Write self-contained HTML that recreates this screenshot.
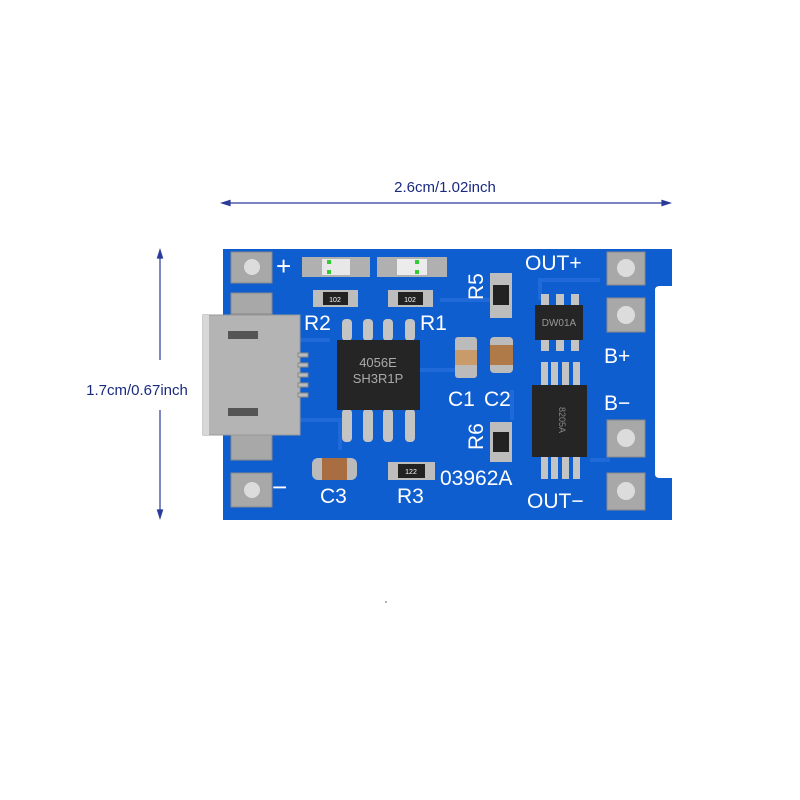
<!DOCTYPE html>
<html><head><meta charset="utf-8"><style>
html,body{margin:0;padding:0;background:#fff;}
svg{display:block;}
</style></head><body>
<svg width="800" height="800" viewBox="0 0 800 800" xmlns="http://www.w3.org/2000/svg" font-family="Liberation Sans, sans-serif">
<g stroke="#2a3a9a" stroke-width="1.2" fill="#2a3a9a">
<line x1="224" y1="203" x2="668" y2="203"/>
<polygon points="222,203 230,200.5 230,205.5"/>
<polygon points="670,203 662,200.5 662,205.5"/>
<line x1="160" y1="252" x2="160" y2="360"/>
<line x1="160" y1="410" x2="160" y2="516"/>
<polygon points="160,250 157.5,258 162.5,258"/>
<polygon points="160,518 157.5,510 162.5,510"/>
</g>
<text x="445" y="192" font-size="15" fill="#1a2a80" text-anchor="middle">2.6cm/1.02inch</text>
<text x="137" y="395" font-size="15" fill="#1a2a80" text-anchor="middle">1.7cm/0.67inch</text>
<circle cx="386" cy="602" r="0.8" fill="#555"/>

<path d="M223,249 H672 V520 H223 Z" fill="#0f5ed0"/>
<path d="M655,290 Q655,286 660,286 H673 V478 H660 Q655,478 655,474 Z" fill="#fff"/>
<g stroke="#2a72e0" stroke-width="4" fill="none" opacity="0.6">
<path d="M300,340 H330 M420,370 H455 M512,390 V420 M300,420 H340 V450 M440,300 H490 M540,300 V280 H600 M590,460 H610"/>
</g>
<g fill="#a8a8a8" stroke="#888" stroke-width="1">
<rect x="231" y="252" width="41" height="31"/>
<rect x="231" y="293" width="41" height="21"/>
<rect x="231" y="432" width="41" height="28"/>
<rect x="231" y="473" width="41" height="34"/>
<rect x="607" y="252" width="38" height="33"/>
<rect x="607" y="298" width="38" height="34"/>
<rect x="607" y="420" width="38" height="37"/>
<rect x="607" y="473" width="38" height="37"/>
</g>
<g fill="#dcdcdc">
<circle cx="252" cy="267" r="8"/><circle cx="252" cy="490" r="8"/>
<circle cx="626" cy="268" r="9"/><circle cx="626" cy="315" r="9"/>
<circle cx="626" cy="438" r="9"/><circle cx="626" cy="491" r="9"/>
</g>
<rect x="203" y="315" width="97" height="120" fill="#b4b4b4" stroke="#999"/>
<rect x="203" y="315" width="6" height="120" fill="#d8d8d8"/>
<rect x="228" y="331" width="30" height="8" fill="#555"/>
<rect x="228" y="408" width="30" height="8" fill="#555"/>
<g fill="#bbb" stroke="#888"><rect x="298" y="353" width="10" height="4"/><rect x="298" y="363" width="10" height="4"/><rect x="298" y="373" width="10" height="4"/><rect x="298" y="383" width="10" height="4"/><rect x="298" y="393" width="10" height="4"/></g>
<g>
<rect x="302" y="257" width="68" height="20" fill="#b0b0b0"/>
<rect x="322" y="259" width="28" height="16" fill="#e8e8e8"/>
<rect x="327" y="260" width="4" height="4" fill="#3c3"/><rect x="327" y="270" width="4" height="4" fill="#3c3"/>
<rect x="377" y="257" width="70" height="20" fill="#b0b0b0"/>
<rect x="397" y="259" width="30" height="16" fill="#ececec"/>
<rect x="415" y="260" width="4" height="4" fill="#3c3"/><rect x="415" y="270" width="4" height="4" fill="#3c3"/>
</g>
<g font-size="7" fill="#fff" text-anchor="middle">
<rect x="313" y="290" width="45" height="17" fill="#bdbdbd"/><rect x="323" y="292" width="25" height="13" fill="#222"/><text x="335" y="302">102</text>
<rect x="388" y="290" width="45" height="17" fill="#bdbdbd"/><rect x="398" y="292" width="25" height="13" fill="#222"/><text x="410" y="302">102</text>
<rect x="388" y="462" width="47" height="18" fill="#bdbdbd"/><rect x="398" y="464" width="27" height="14" fill="#222"/><text x="411" y="474">122</text>
<rect x="490" y="273" width="22" height="45" fill="#bdbdbd"/><rect x="493" y="285" width="16" height="20" fill="#222"/>
<rect x="490" y="422" width="22" height="40" fill="#bdbdbd"/><rect x="493" y="432" width="16" height="20" fill="#222"/>
</g>
<rect x="455" y="337" width="22" height="41" rx="3" fill="#bbb"/><rect x="455" y="350" width="22" height="15" fill="#c99a6a"/>
<rect x="490" y="337" width="23" height="36" rx="4" fill="#bbb"/><rect x="490" y="345" width="23" height="20" fill="#b07a48"/>
<rect x="312" y="458" width="45" height="22" rx="6" fill="#bbb"/><rect x="322" y="458" width="25" height="22" fill="#a86e42"/>
<g fill="#c4c4c4">
<rect x="342" y="319" width="10" height="22" rx="4"/><rect x="363" y="319" width="10" height="22" rx="4"/><rect x="383" y="319" width="10" height="22" rx="4"/><rect x="405" y="319" width="10" height="22" rx="4"/>
<rect x="342" y="409" width="10" height="33" rx="4"/><rect x="363" y="409" width="10" height="33" rx="4"/><rect x="383" y="409" width="10" height="33" rx="4"/><rect x="405" y="409" width="10" height="33" rx="4"/>
</g>
<rect x="337" y="340" width="83" height="70" fill="#252525"/>
<text x="378" y="367" font-size="13" fill="#aaa" text-anchor="middle">4056E</text>
<text x="378" y="383" font-size="13" fill="#aaa" text-anchor="middle">SH3R1P</text>
<g fill="#c4c4c4">
<rect x="541" y="294" width="8" height="13"/><rect x="556" y="294" width="8" height="13"/><rect x="571" y="294" width="8" height="13"/>
<rect x="541" y="338" width="8" height="13"/><rect x="556" y="338" width="8" height="13"/><rect x="571" y="338" width="8" height="13"/>
</g>
<rect x="535" y="305" width="48" height="35" fill="#252525"/>
<text x="559" y="326" font-size="10" fill="#999" text-anchor="middle">DW01A</text>
<g fill="#c4c4c4">
<rect x="541" y="362" width="7" height="24"/><rect x="551" y="362" width="7" height="24"/><rect x="562" y="362" width="7" height="24"/><rect x="573" y="362" width="7" height="24"/>
<rect x="541" y="455" width="7" height="24"/><rect x="551" y="455" width="7" height="24"/><rect x="562" y="455" width="7" height="24"/><rect x="573" y="455" width="7" height="24"/>
</g>
<rect x="532" y="385" width="55" height="72" fill="#252525"/>
<text x="559" y="420" font-size="9" fill="#888" text-anchor="middle" transform="rotate(90 559 420)">8205A</text>
<g fill="#fff" font-size="21">
<text x="276" y="275" font-size="26">+</text>
<text x="525" y="270">OUT+</text>
<text x="304" y="330">R2</text>
<text x="420" y="330">R1</text>
<text x="604" y="363">B+</text>
<text x="604" y="410">B−</text>
<text x="448" y="406">C1</text>
<text x="484" y="406">C2</text>
<text x="440" y="485">03962A</text>
<text x="527" y="508">OUT−</text>
<text x="272" y="496" font-size="26">−</text>
<text x="320" y="503">C3</text>
<text x="397" y="503">R3</text>
<text x="0" y="0" transform="translate(483,300) rotate(-90)">R5</text>
<text x="0" y="0" transform="translate(483,450) rotate(-90)">R6</text>
</g>
</svg>
</body></html>
